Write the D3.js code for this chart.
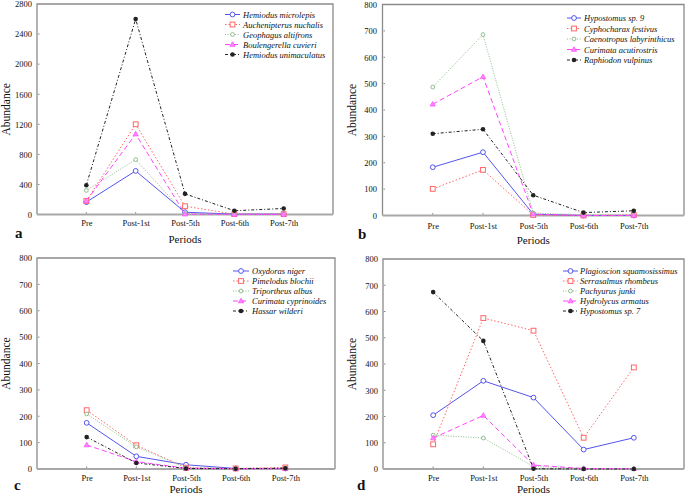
<!DOCTYPE html>
<html><head><meta charset="utf-8">
<script src="https://cdn.jsdelivr.net/npm/d3@7"></script>
<style>
body{margin:0;background:#fff;}
svg, svg text{font-family:"Liberation Serif","Times New Roman","DejaVu Serif",serif !important;}
</style></head>
<body><svg id="c" width="685" height="496"></svg>
<script>
const periods = ["Pre","Post-1st","Post-5th","Post-6th","Post-7th"];

const namesA = ["Hemiodus microlepis","Auchenipterus nuchalis","Geophagus altifrons","Boulengerella cuvieri","Hemiodus unimaculatus"];
const valuesA = [
  [165, 580, 30, 5, 5],
  [180, 1200, 110, 5, 5],
  [320, 730, 10, 2, 2],
  [180, 1070, 5, 2, 2],
  [390, 2600, 275, 50, 80]
];
const ticksA = [0,400,800,1200,1600,2000,2400,2800];

const namesB = ["Hypostomus sp. 9","Cyphocharax festivus","Caenotropus labyrinthicus","Curimata acutirostris","Raphiodon vulpinus"];
const valuesB = [
  [183, 240, 5, 0, 0],
  [101, 173, 2, 0, 2],
  [487, 686, 9, 3, 2],
  [422, 526, 5, 0, 0],
  [310, 327, 77, 11, 18]
];
const namesC = ["Oxydoras niger","Pimelodus blochii","Triportheus albus","Curimata cyprinoides","Hassar wilderi"];
const valuesC = [
  [175, 48, 16, 2, 2],
  [223, 90, 5, 2, 6],
  [209, 84, 5, 1, 3],
  [91, 28, 3, 1, 1],
  [121, 23, 2, 1, 3]
];
const namesD = ["Plagioscion squamosissimus","Serrasalmus rhombeus","Pachyurus junki","Hydrolycus armatus","Hypostomus sp. 7"];
const valuesD = [
  [205, 336, 272, 74, 119],
  [94, 575, 527, 119, 387],
  [129, 118, 10, 2, 1],
  [118, 204, 15, 2, 1],
  [674, 488, 1, 0, 0]
];
const ticks800 = [0,100,200,300,400,500,600,700,800];

const styles = [
  {color:"#5555ee", dash:null, marker:"circle"},
  {color:"#ff6666", dash:"1.5,2", marker:"square"},
  {color:"#8fbf8f", dash:"1,1.5", marker:"ocircle"},
  {color:"#ff44ff", dash:"5,3", marker:"triangle"},
  {color:"#222222", dash:"3,2,1,2", marker:"dot"}
];

const FONT = "Liberation Serif, Times New Roman, DejaVu Serif, serif";
const svg = d3.select("#c").attr("font-family", FONT);

function marker(g, type, color, x, y){
  if(type==="circle"){
    g.append("circle").attr("cx",x).attr("cy",y).attr("r",2.4).attr("fill","#fff").attr("stroke",color).attr("stroke-width",1);
  } else if(type==="ocircle"){
    g.append("circle").attr("cx",x).attr("cy",y).attr("r",1.9).attr("fill","#fff").attr("stroke",color).attr("stroke-width",1);
  } else if(type==="square"){
    g.append("rect").attr("x",x-2.4).attr("y",y-2.4).attr("width",4.8).attr("height",4.8).attr("fill","#fff").attr("stroke",color).attr("stroke-width",1);
  } else if(type==="triangle"){
    g.append("path").attr("d",d3.symbol(d3.symbolTriangle,12)()).attr("transform",`translate(${x},${y+0.3})`).attr("fill","#ff88ff").attr("stroke",color).attr("stroke-width",0.7);
  } else {
    g.append("circle").attr("cx",x).attr("cy",y).attr("r",2.3).attr("fill",color);
  }
}

function panel(cfg){
  const {left,right,top,bottom,yMax,ticks,names,values,letter,letterX,letterY,tickY,yLabX,abX,periodsY,leg} = cfg;
  const g = svg.append("g");
  const x = d3.scaleLinear().domain([-1,5]).range([left,right]);
  const y = d3.scaleLinear().domain([0,yMax]).range([bottom,top]);
  g.append("path").attr("d",`M${left},${bottom}V${top}H${right}V${bottom}`).attr("fill","none").attr("stroke","#8a8a8a").attr("stroke-width",1.3);
  g.append("line").attr("x1",left).attr("x2",right).attr("y1",bottom).attr("y2",bottom).attr("stroke","#a8a8a8").attr("stroke-width",2.2);
  const ya = d3.axisLeft(y).tickValues(ticks).tickSize(0).tickPadding(0).tickFormat(d3.format("d"));
  const yg = g.append("g").attr("transform",`translate(${yLabX},0)`).call(ya).attr("font-family",FONT);
  yg.select(".domain").remove();
  yg.selectAll("text").attr("font-size",8.5).attr("fill","#111").attr("dy","0.33em");
  ticks.forEach(t=>{ if(t>0 && t<yMax) g.append("line").attr("x1",left+1).attr("x2",left+2.5).attr("y1",y(t)).attr("y2",y(t)).attr("stroke","#888").attr("stroke-width",1); });
  const xa = d3.axisBottom(x).tickValues(d3.range(periods.length)).tickSize(0).tickPadding(0).tickFormat(i=>periods[i]);
  const xg = g.append("g").attr("transform",`translate(0,${tickY})`).call(xa).attr("font-family",FONT);
  xg.select(".domain").remove();
  xg.selectAll("text").attr("font-size",8.5).attr("fill","#111").attr("dy",0);
  periods.forEach((p,i)=>g.append("line").attr("x1",x(i)).attr("x2",x(i)).attr("y1",bottom-2.5).attr("y2",bottom-1).attr("stroke","#888"));
  const line = d3.line().x((d,i)=>x(i)).y(d=>y(d));
  values.forEach((vals,si)=>{
    const st = styles[si];
    g.append("path").datum(vals).attr("d",line).attr("fill","none").attr("stroke",st.color).attr("stroke-width",1).attr("stroke-dasharray",st.dash);
  });
  values.forEach((vals,si)=>{
    const st = styles[si];
    vals.forEach((v,i)=>marker(g,st.marker,st.color,x(i),y(v)));
  });
  names.forEach((n,si)=>{
    const st = styles[si];
    const yy = leg.y + si*leg.dy;
    g.append("line").attr("x1",leg.x1).attr("x2",leg.x2).attr("y1",yy).attr("y2",yy).attr("stroke",st.color).attr("stroke-width",1).attr("stroke-dasharray",st.dash);
    marker(g,st.marker,st.color,(leg.x1+leg.x2)/2,yy);
    g.append("text").attr("x",leg.tx).attr("y",yy+3).attr("font-size",8.5).attr("font-style","italic").attr("fill","#111").text(n);
  });
  g.append("text").attr("transform",`translate(${abX},${(top+bottom)/2}) rotate(-90)`).attr("text-anchor","middle").attr("font-size",11.5).attr("fill","#111").text("Abundance");
  g.append("text").attr("x",(left+right)/2).attr("y",periodsY).attr("text-anchor","middle").attr("font-size",11).attr("fill","#111").text("Periods");
  g.append("text").attr("x",letterX).attr("y",letterY).attr("font-size",15).attr("font-weight","bold").attr("fill","#111").text(letter);
}

panel({left:37,right:333,top:4,bottom:214.5,yMax:2800,ticks:ticksA,names:namesA,values:valuesA,letter:"a",letterX:15,letterY:238,tickY:226,yLabX:32,abX:10,periodsY:243,
  leg:{x1:225,x2:240,tx:243,y:14.5,dy:10}});
panel({left:382.5,right:684,top:4.5,bottom:215.5,yMax:800,ticks:ticks800,names:namesB,values:valuesB,letter:"b",letterX:358,letterY:239,tickY:229,yLabX:377,abX:356,periodsY:244,
  leg:{x1:567,x2:581,tx:584,y:18,dy:10.5}});
panel({left:37,right:335,top:258,bottom:469,yMax:800,ticks:ticks800,names:namesC,values:valuesC,letter:"c",letterX:14,letterY:490,tickY:481,yLabX:32,abX:10,periodsY:493,
  leg:{x1:233,x2:249,tx:252,y:271,dy:10}});
panel({left:383,right:684,top:259,bottom:469,yMax:800,ticks:ticks800,names:namesD,values:valuesD,letter:"d",letterX:357,letterY:490,tickY:481,yLabX:378,abX:356,periodsY:493,
  leg:{x1:563,x2:578,tx:580,y:271,dy:10}});
</script></body></html>
